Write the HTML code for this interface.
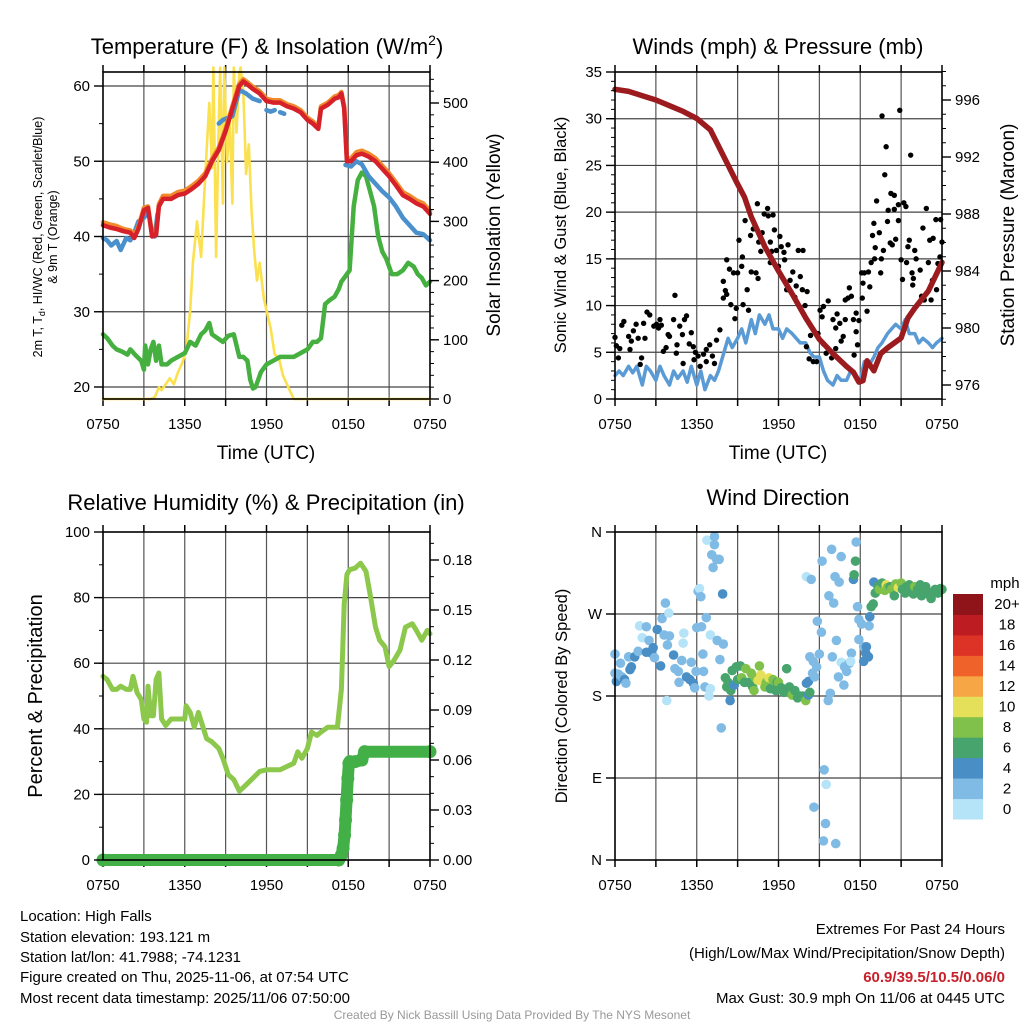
<!DOCTYPE html>
<html><head><meta charset="utf-8"><title>High Falls Meteogram</title>
<style>
html,body{margin:0;padding:0;background:#fff;}
svg{display:block;font-family:"Liberation Sans",Arial,sans-serif;}
</style></head>
<body>
<svg id="chart" width="1024" height="1024" viewBox="0 0 1024 1024" xmlns="http://www.w3.org/2000/svg">
<g id="static">
<text x="267" y="54" font-size="22" text-anchor="middle">Temperature (F) &amp; Insolation (W/m<tspan dy="-9" font-size="14">2</tspan><tspan dy="9">)</tspan></text>
<text x="778" y="54" font-size="22" text-anchor="middle">Winds (mph) &amp; Pressure (mb)</text>
<text x="266" y="510" font-size="22" text-anchor="middle">Relative Humidity (%) &amp; Precipitation (in)</text>
<text x="778" y="505" font-size="22" text-anchor="middle">Wind Direction</text>
<text transform="translate(42,237) rotate(-90)" font-size="12.5" text-anchor="middle">2m T, T<tspan dy="3" font-size="9">d</tspan><tspan dy="-3">, HI/WC (Red, Green, Scarlet/Blue)</tspan></text>
<text transform="translate(57,237) rotate(-90)" font-size="12.5" text-anchor="middle">&amp; 9m T (Orange)</text>
<text transform="translate(500,235) rotate(-90)" font-size="19" text-anchor="middle">Solar Insolation (Yellow)</text>
<text x="266" y="459" font-size="19" text-anchor="middle">Time (UTC)</text>
<text x="778" y="459" font-size="19" text-anchor="middle">Time (UTC)</text>
<text transform="translate(566,235) rotate(-90)" font-size="16.5" text-anchor="middle">Sonic Wind &amp; Gust (Blue, Black)</text>
<text transform="translate(1014,235) rotate(-90)" font-size="19" text-anchor="middle">Station Pressure (Maroon)</text>
<text transform="translate(42,696) rotate(-90)" font-size="20" text-anchor="middle">Percent &amp; Precipitation</text>
<text transform="translate(567,696) rotate(-90)" font-size="16.5" text-anchor="middle">Direction (Colored By Speed)</text>
<text x="1005" y="588" font-size="15" text-anchor="middle">mph</text>
<g font-size="15">
<text x="20" y="921">Location: High Falls</text>
<text x="20" y="942">Station elevation: 193.121 m</text>
<text x="20" y="962">Station lat/lon: 41.7988; -74.1231</text>
<text x="20" y="982">Figure created on Thu, 2025-11-06, at 07:54 UTC</text>
<text x="20" y="1003">Most recent data timestamp: 2025/11/06 07:50:00</text>
</g>
<g font-size="15" text-anchor="end">
<text x="1005" y="934">Extremes For Past 24 Hours</text>
<text x="1005" y="958">(High/Low/Max Wind/Precipitation/Snow Depth)</text>
<text x="1005" y="982" fill="#c8202a" font-weight="bold">60.9/39.5/10.5/0.06/0</text>
<text x="1005" y="1003">Max Gust: 30.9 mph On 11/06 at 0445 UTC</text>
</g>
<text x="512" y="1019" font-size="12" fill="#999" text-anchor="middle">Created By Nick Bassill Using Data Provided By The NYS Mesonet</text>
</g>
</svg>
<script>
// ===== Data =====
const timeTickLabels = ["0750","1350","1950","0150","0750"];
// Temperature panel (hours since 07:50 UTC)
const tempHours = [0,0.5,1,1.5,2,2.3,2.6,3,3.3,3.6,3.9,4.1,4.4,5,5.5,6,6.5,7,7.5,8,8.5,9,9.5,10,10.3,10.6,11,11.5,12,12.5,13,13.5,14,14.5,15,15.4,15.8,16,16.5,17,17.3,17.5,17.7,17.9,18.2,18.6,19,19.5,20,20.5,21,21.5,22,22.5,23,23.5,24];
const tempValues = [41.5,41.2,41,40.7,40.5,39.8,41,43.5,43.8,40,40.2,44,45,45,45.5,45.7,46.3,47,48,50,51.5,54,57,60,60.6,60.2,59.6,59,58,57.8,57.8,57.3,57,56.5,55.5,55,54.3,57,57.5,58.3,58.5,59,57,50,50,50.8,51,50.6,50,49,48,46.8,45.5,45,44.4,44,43];
const temp9mValues = [41.9,41.6,41.4,41,40.8,40.1,41.3,43.8,44,40.3,40.5,44.3,45.4,45.4,45.9,46.1,46.7,47.4,48.4,50.3,51.8,54.3,57.3,60.3,60.9,60.5,59.9,59.3,58.3,58.1,58.1,57.6,57.3,56.8,55.8,55.3,54.6,57.3,57.8,58.6,58.8,59.2,57.3,50.3,50.4,51.2,51.4,51,50.4,49.4,48.4,47.2,45.9,45.4,44.8,44.4,43.4];
const chillHours = [0,0.3,0.6,1,1.3,1.7,2,2.3,2.6,3,3.3,null,3.8,3.9,4,null,4.4,null,5.1,null,7.7,8,null,8.5,8.8,9.5,10,10.5,11,11.5,null,11.8,null,12,12.3,12.6,null,13,13.3,null,17.8,18.2,18.6,19,19.5,20,20.5,21,21.5,22,22.5,23,23.5,24];
const chillValues = [39.8,39.5,38.8,39.4,38.2,39.8,39.5,40.5,42,42.5,43.2,null,40,41.5,43,null,44,null,43,null,49,50,null,55,55.5,56,59.5,59,58.3,58,null,57.5,null,56.8,56.6,56.8,null,56.5,56.3,null,49.5,49.3,50,49.6,48,47,46,45.2,44,42.5,41.5,40.5,40.3,39.5];
const dewHours = [0,0.3,0.7,1,1.4,1.8,2,2.4,2.8,3,3.1,3.3,3.5,3.7,3.9,4.1,4.3,4.7,5,5.5,6,6.4,6.8,7.2,7.5,7.8,8,8.4,8.8,9.2,9.6,10,10.3,10.6,10.8,11,11.2,11.6,12,12.5,13,13.5,14,14.5,15,15.4,15.7,16,16.3,16.6,17,17.3,17.5,17.7,17.9,18.1,18.4,18.7,19,19.3,19.6,19.9,20.2,20.5,20.8,21.2,21.6,22,22.4,22.8,23.1,23.4,23.7,24];
const dewValues = [27,26.5,25.5,25,24.7,24.3,25,24.2,23.5,22.3,25.5,23,25,26,23.5,25.5,23,23,23.5,24,24.5,26,25.5,27,27.5,28.5,27,26.5,26,26.8,27,24,24,23.5,21,19.8,20,22,23,23.5,24,24,24,24.5,25,26,26,26.5,31,31.5,32,33,34,34.5,35,35.5,44,47.5,48.5,48,46,44,40,38,37,35,35,35.5,36.5,36,35,34.5,33.5,34];
const solarHours = [0,1,2,3,3.5,3.8,4.1,4.3,4.6,4.9,5.2,5.5,5.8,6.1,6.4,6.6,6.9,7.2,7.4,7.6,7.8,8,8.1,8.3,8.5,8.6,8.8,8.9,9.1,9.3,9.5,9.6,9.8,10,10.1,10.3,10.5,10.7,10.9,11.1,11.3,11.5,11.8,12,12.3,12.6,12.9,13.2,13.5,13.8,14,14.5,15,18,21,24];
const solarValues = [0,0,0,0,0,3,20,15,25,35,25,45,60,80,150,230,300,240,330,420,500,390,560,240,470,560,330,560,400,470,330,560,450,550,560,520,380,430,320,250,200,230,170,150,120,75,70,40,25,10,0,0,0,0,0,0];
// Winds panel
const windHours = [0,0.3,0.6,1,1.3,1.6,2,2.3,2.6,3,3.3,3.6,4,4.3,4.6,5,5.3,5.6,6,6.3,6.6,7,7.3,7.6,8,8.3,8.6,9,9.3,9.6,10,10.3,10.6,11,11.3,11.6,12,12.3,12.6,13,13.3,13.6,14,14.3,14.6,15,15.3,15.6,16,16.3,16.6,17,17.3,17.6,18,18.3,18.6,19,19.3,19.6,20,20.3,20.6,21,21.3,21.6,22,22.3,22.6,23,23.3,23.6,24];
const windValues = [2.5,3,2.5,3.5,2.8,3.5,1.5,3.5,3,2,3.5,2.5,1.5,3,2.2,3,1.8,3.5,1.5,3,1,2.5,2,3,5,6.5,5.5,6.5,7.5,6,8.5,7,9,8,9,7.5,7.5,6.5,7.5,7,6.5,6,6,5,4.5,4.5,3,2,1.5,2.5,2,2,3,2.5,2,4,3.5,4.5,5.5,6,7,7.5,8,7.5,8.5,7,7,6,6.5,6,5.5,6,6.5];
const pressureHours = [0,1,2,3,4,5,6,7,8,9,9.5,10,11,12,13,14,15,16,17,17.5,17.9,18.2,18.5,19,19.5,20,21,21.5,22,23,24];
const pressureValues = [996.75,996.6,996.3,996.0,995.6,995.2,994.7,993.9,992.0,990.1,989.2,987.8,985.7,984.0,982.4,980.7,979.2,978.2,977.3,976.9,976.2,976.3,977.7,977.0,978.2,978.6,979.3,980.7,981.4,982.6,984.6];
const gustHours = [0,0.1,0.25,0.35,0.5,0.65,1,1.1,1.2,1.35,1.55,1.7,1.85,1.95,2.1,2.2,2.35,2.55,2.85,3.05,3.2,3.3,3.4,3.55,3.75,3.9,4,4.3,4.4,4.5,4.55,4.75,4.95,5,5.1,5.25,5.45,5.6,5.75,5.8,5.9,6.1,6.25,6.5,6.7,6.7,6.95,7.15,7.3,7.45,7.7,7.95,7.95,8.1,8.2,8.2,8.4,8.5,8.7,8.8,8.9,9,9.1,9.3,9.35,9.4,9.55,9.7,9.8,9.95,10,10.15,10.35,10.45,10.5,10.55,10.7,10.8,10.95,11.2,11.25,11.4,11.4,11.5,11.6,11.7,11.85,12,12.1,12.2,12.4,12.45,12.6,12.7,12.85,13.05,13.2,13.3,13.45,13.6,13.75,13.8,13.95,14.05,14.1,14.25,14.35,14.55,14.8,14.9,15.05,15.2,15.3,15.3,15.5,15.65,15.9,16,16.2,16.2,16.3,16.5,16.6,16.75,16.9,16.9,17.1,17.2,17.35,17.5,17.55,17.7,17.7,17.8,17.9,18.1,18.15,18.2,18.3,18.5,18.6,18.7,18.8,18.9,19,19.05,19.1,19.2,19.4,19.5,19.55,19.6,19.7,19.8,19.9,20,20.05,20.2,20.25,20.35,20.5,20.5,20.6,20.8,20.8,20.9,21,21.1,21.2,21.35,21.4,21.5,21.6,21.7,21.8,21.85,21.9,22,22.1,22.4,22.5,22.6,22.7,22.85,23,23.1,23.2,23.3,23.35,23.55,23.6,23.7,23.85,23.9,24];
const gustValues = [6.6,5.7,4.4,5.4,7.9,8.3,6.7,5.3,6.2,7.3,8,6.5,3.7,4.4,8.1,6.5,9.3,9,7.8,8,7.6,8.5,7.9,5.1,5.5,6.9,6.7,8.5,11.1,4.9,5.8,7.8,6.9,3.8,8.5,8.9,5.9,7.1,5.6,4.2,5,4.6,3.5,4.8,5.3,4,5.8,4.6,3.8,6.3,7.4,10.8,12.6,11.6,14.9,11.2,13.9,10.1,13.5,8.6,9.7,13.5,17,14.2,15.2,10.1,19.1,11.7,9.5,17.5,13.6,18.2,13.5,20.9,12.9,16.8,15.8,17.8,19.8,20.4,19.6,14.6,16.8,15.8,19.7,18.1,15.9,14.2,17.4,16.3,15.7,14.9,11.7,16.5,12.7,13.6,10.9,12.1,15.9,13.1,11.7,15.9,10,5.6,11.5,4.3,6.8,4,4,7,9.5,8.8,9.9,5.9,4.9,10.5,4.4,8.5,7.6,5.4,9.1,8.1,6.2,6.7,10.6,8.5,10.8,11.9,11,8.5,4.7,9.2,7.2,5.8,8.4,13.5,10.8,12.4,13.5,9.4,13.6,12,14.6,17.5,18.8,15,16.2,21.2,17.8,13.5,15,30.3,15.9,24,27,19,20.2,16.7,22,16.5,20.3,21.8,17.1,20.8,19.1,30.9,14.9,12.8,21,20.6,14.6,16.3,17,26.1,13.5,12.2,12.9,15.9,15,13.8,11,18.3,10.6,20.4,14.6,17,10.6,12.7,17.2,19.2,11.7,14.5,15.2,19.2,16.8];
// Humidity panel
const rhHours = [0,0.3,0.7,1,1.3,1.7,2,2.2,2.5,2.8,3,3.2,3.3,3.5,3.7,3.9,4.1,4.3,4.6,5,5.5,6,6.1,6.4,6.7,7,7.3,7.6,8,8.5,8.8,9.2,9.6,10,10.4,10.9,11.5,12,13,13.5,14,14.3,14.6,15,15.3,15.7,16,16.5,17.2,17.5,17.7,17.9,18.1,18.5,18.9,19.3,19.6,20,20.3,20.7,21,21.3,21.8,22.2,22.7,23,23.4,23.8,24];
const rhValues = [56,55,52,52,53,52,52,56,51,49,43,42,53,44,44,55,57,43,41,43,43,43,47,45,40.5,45,41,37,36,34,31,26,24.5,21,22.5,24.5,27,27.5,27.5,28.5,29.5,33,31,34,39,38,39,40.5,40.5,52,78,87,88.5,89,90.5,88,81,71,67,65,59,60.5,64,71,72,70,67,70,69];
const precipHours = [0,17.3,17.5,17.62,17.73,17.8,17.88,17.97,18.05,18.12,18.5,19.0,19.2,24];
const precipValues = [0,0,0.003,0.007,0.015,0.024,0.036,0.049,0.058,0.059,0.059,0.06,0.065,0.065];
// Direction panel
const dirHours = [0,0,0.1,0.4,0.25,0.5,0.7,0.8,1,1.1,1.2,1.45,1.7,1.8,2,2.3,2.3,2.5,2.7,2.8,2.9,3.1,3.35,3.45,3.7,3.95,3.6,4,3.85,4.3,4.4,4.65,4.7,5.05,5,4.9,5.25,5.5,5.75,5.85,5.6,5.95,3.8,6.75,7.3,7.3,7.1,7.45,7.65,7.2,7.9,6.1,6.2,6.3,6.7,6,6.35,7,7.5,7.95,6.45,7.7,6.5,6.6,7,6.9,7.8,8.45,8.1,8.2,8.3,8.5,8.6,8.75,8.9,9,9.2,9.3,9.5,9.6,9.8,10,10.1,10.2,10.3,10.5,10.6,10.7,10.9,11,11.1,11.3,11.4,11.6,11.8,11.9,12,12.2,12.4,12.6,12.8,13,13.2,13.4,13.6,13.8,14,14.2,14.3,14.05,14.2,14.5,14.3,14.55,14.8,15,15.15,14.85,14.05,14.4,15.2,15.9,16.6,16.15,16.45,15.7,16.05,16.25,15.95,16.6,16.85,17,16.4,16.8,15.8,15.65,14.65,14.6,15.35,15.5,15.45,15.3,16.2,17.35,17.2,17.3,17.5,17.55,17.65,17.7,17.8,17.9,17.9,18.1,18.65,18.25,18.45,18.6,18.25,18.4,18.7,18.8,18.95,19,19.1,19.3,19.4,19.6,19.8,19.9,20,20.2,20.3,20.5,20.6,20.8,21,21.1,21.3,21.4,21.6,21.7,21.9,22,22.2,22.4,22.5,22.7,22.8,23,23.2,23.3,23.5,23.7,23.9,24];
const dirValues = [226,205,196,216,204,201,198,194,223,209,212,223,229,257,244,256,228,241,227,233,222,253,213,265,282,271,247,246,236,225,210,207,195,249,238,219,201,198,194,189,217,207,175,351,355,346,335,330,330,321,292,295,298,289,266,255,256,247,241,237,226,220,207,190,188,180,145,175,200,190,195,186,208,192,212,198,213,200,195,210,195,205,190,186,200,197,213,203,198,190,195,200,188,198,186,195,195,189,184,210,190,181,186,178,180,180,175,181,184,194,196,205,223,218,212,226,250,262,311,308,328,341,333,311,305,290,282,241,223,217,212,207,201,192,183,175,201,58,99,83,40,21,18,227,216,218,308,313,328,349,278,264,242,259,257,234,234,223,218,227,267,278,281,305,293,300,297,304,296,302,299,300,297,290,303,299,304,297,293,300,302,296,292,300,297,302,290,296,300,292,287,294,297,293,298,297];
const dirSpeeds = [3,3,5,3,3,3,5,3,3,5,5,5,3,1,1,3,5,3,5,5,3,5,5,3,3,1,3,3,3,5,3,3,3,1,1,3,5,5,5,3,3,3,1,1,3,3,3,3,3,3,5,3,1,3,3,3,3,1,3,3,3,3,3,3,1,1,3,5,7,7,7,7,7,5,7,7,7,9,7,9,7,9,7,9,9,11,9,11,11,9,9,11,7,9,7,7,9,7,7,7,7,9,7,7,7,7,9,5,7,5,5,3,3,3,3,3,3,3,1,3,3,3,3,3,3,3,3,3,3,1,3,3,3,3,3,3,3,3,3,1,3,3,3,3,3,1,5,7,7,3,3,3,3,3,3,3,5,5,5,5,5,7,7,5,7,7,9,7,9,11,9,7,9,7,9,11,9,7,7,7,7,7,7,9,7,7,7,7,7,7,7,7,7,7,7,7,7,7,7,7,7];
const speedColors = ["#b5e3f8","#80bbe5","#4a8ec6","#46a46c","#7fc14a","#e5e05a","#f6a645","#ef6229","#dd3326","#bd1c23","#8f1419"];
const colorbarLabels = ["0","2","4","6","8","10","12","14","16","18","20+"];

// ===== Drawing =====
const NS = "http://www.w3.org/2000/svg";
const svg = document.getElementById("chart");
function mk(tag, attrs, parent){
  const e = document.createElementNS(NS, tag);
  for (const k in attrs) e.setAttribute(k, attrs[k]);
  (parent || svg).appendChild(e);
  return e;
}
function lin(d0,d1,r0,r1){ return v => r0 + (v-d0)*(r1-r0)/(d1-d0); }

function panel(name, x0, x1, y0, y1){
  const g = mk("g", {});
  
  
  return {g, x0, x1, y0, y1, x: lin(0,24,x0,x1)};
}
function frameAndTimeAxis(p, hGrid, gridY){
  const grid = mk("g", {stroke:"#000", "stroke-width":"1.2"}, p.g);
  
  
  for (let h=3; h<24; h+=3){
    const gx = p.x(h);
    mk("line", {x1:gx, x2:gx, y1:p.y0, y2:p.y1, stroke: "#555"}, grid);
  }
  gridY.forEach(gy => mk("line", {x1:p.x0, x2:p.x1, y1:gy, y2:gy, stroke:"#444"}, grid));
  const ax = mk("g", {stroke:"#000", "stroke-width":"1.5"}, p.g);
  
  
  for (let h=0; h<=24; h+=3){
    const gx = p.x(h);
    mk("line", {x1:gx, x2:gx, y1:p.y1, y2:p.y1+7}, ax);
    mk("line", {x1:gx, x2:gx, y1:p.y0, y2:p.y0-7}, ax);
  }
  timeTickLabels.forEach((lbl,i) => {
    const t = mk("text", {x:p.x(i*6), y:p.y1+30, "font-size":"15", "text-anchor":"middle", stroke:"none"}, ax);
    
    
    t.textContent = lbl;
  });
}
function border(p){
  const r = mk("rect", {x:p.x0, y:p.y0, width:p.x1-p.x0, height:p.y1-p.y0, fill:"none", stroke:"#000", "stroke-width":"1.6"}, p.g);
  
  
}
function yAxis(p, side, ticks, labels, scale, minorStep, dmin, dmax){
  const g = mk("g", {stroke:"#000", "stroke-width":"1.4"}, p.g);
  
  
  const xe = side === "left" ? p.x0 : p.x1;
  const dir = side === "left" ? -1 : 1;
  if (minorStep){
    for (let v = dmin; v <= dmax + 1e-9; v += minorStep){
      const yy = scale(v);
      if (yy < p.y0-0.5 || yy > p.y1+0.5) continue;
      mk("line", {x1:xe, x2:xe+dir*4, y1:yy, y2:yy, "stroke-width":"1"}, g);
    }
  }
  ticks.forEach((v,i) => {
    const yy = scale(v);
    mk("line", {x1:xe, x2:xe+dir*9, y1:yy, y2:yy}, g);
    const t = mk("text", {x: xe + dir*13, y: yy+5, "font-size":"15", "text-anchor": side==="left"?"end":"start", stroke:"none"}, g);
    
    
    t.textContent = labels[i];
  });
}
function path(p, hours, vals, ys, attrs, name){
  let d = "", pen = false;
  for (let i=0;i<hours.length;i++){
    if (hours[i] === null || vals[i] === null){ pen = false; continue; }
    d += (pen ? "L" : "M") + p.x(hours[i]).toFixed(1) + " " + ys(vals[i]).toFixed(1) + " ";
    pen = true;
  }
  const a = Object.assign({d:d, fill:"none", "stroke-linejoin":"round", "stroke-linecap":"round"}, attrs);
  const e = mk("path", a, p.g);
  
  
  return e;
}

// Panel 1: temperature
const p1 = panel("temperature-panel", 103, 430, 72, 399);
const yT = lin(20, 60, 387, 86);
const yS = lin(0, 500, 399, 103);
frameAndTimeAxis(p1, true, [20,30,40,50,60].map(yT));
path(p1, solarHours, solarValues, yS, {stroke:"#fbe04f", "stroke-width":"2.6"}, "solar-line");
path(p1, dewHours, dewValues, yT, {stroke:"#45b03f", "stroke-width":"4.5"}, "dewpoint-line");
path(p1, chillHours, chillValues, yT, {stroke:"#4a90cd", "stroke-width":"4.5"}, "wind-chill-line");
path(p1, tempHours, temp9mValues, yT, {stroke:"#f08a2a", "stroke-width":"4.5"}, "temp-9m-line");
path(p1, tempHours, tempValues, yT, {stroke:"#d7212a", "stroke-width":"4.5"}, "temp-2m-line");
border(p1);
yAxis(p1, "left", [20,30,40,50,60], ["20","30","40","50","60"], yT, 5, 20, 62);
yAxis(p1, "right", [0,100,200,300,400,500], ["0","100","200","300","400","500"], yS, 20, 0, 560);

// Panel 2: winds
const p2 = panel("winds-panel", 615, 942, 72, 399);
const yW = lin(0, 35, 399, 72);
const yP = lin(976, 996, 385, 100);
frameAndTimeAxis(p2, true, [5,10,15,20,25,30].map(yW));
path(p2, windHours, windValues, yW, {stroke:"#5b9bd5", "stroke-width":"3.5"}, "sustained-wind-line");
const gustG = mk("g", {fill:"#000"}, p2.g);


gustHours.forEach((h,i) => {
  const c = mk("circle", {cx:p2.x(h), cy:yW(gustValues[i]), r:"2.7"}, gustG);
  
  
});
path(p2, pressureHours, pressureValues, yP, {stroke:"#9b1b1f", "stroke-width":"5.5"}, "pressure-line");
border(p2);
yAxis(p2, "left", [0,5,10,15,20,25,30,35], ["0","5","10","15","20","25","30","35"], yW, 1, 0, 35);
yAxis(p2, "right", [976,980,984,988,992,996], ["976","980","984","988","992","996"], yP, 1, 975, 998);

// Panel 3: humidity
const p3 = panel("humidity-panel", 103, 430, 532, 860);
const yR = lin(0, 100, 860, 532);
const yQ = lin(0, 0.18, 860, 560);
frameAndTimeAxis(p3, true, [20,40,60,80].map(yR));
path(p3, rhHours, rhValues, yR, {stroke:"#8cc84b", "stroke-width":"5"}, "humidity-line");
path(p3, precipHours, precipValues, yQ, {stroke:"#43b047", "stroke-width":"12"}, "precip-line");
const prG = mk("g", {fill:"#43b047"}, p3.g);


precipHours.forEach((h,i) => {
  const c = mk("circle", {cx:p3.x(h), cy:yQ(precipValues[i]), r:"6.5"}, prG);
  
  
});
border(p3);
yAxis(p3, "left", [0,20,40,60,80,100], ["0","20","40","60","80","100"], yR, 10, 0, 100);
yAxis(p3, "right", [0,0.03,0.06,0.09,0.12,0.15,0.18], ["0.00","0.03","0.06","0.09","0.12","0.15","0.18"], yQ, 0.01, 0, 0.197);

// Panel 4: direction
const p4 = panel("wind-direction-panel", 615, 942, 532, 860);
const yD = lin(0, 360, 860, 532);
frameAndTimeAxis(p4, true, [90,180,270].map(yD));
const dG = mk("g", {}, p4.g);


dirHours.forEach((h,i) => {
  const idx = Math.min(10, Math.floor(dirSpeeds[i]/2));
  const c = mk("circle", {cx:p4.x(h), cy:yD(dirValues[i]), r:"4.8", fill:speedColors[idx]}, dG);
  
  
});
border(p4);
yAxis(p4, "left", [0,90,180,270,360], ["N","E","S","W","N"], yD, null, 0, 360);

// Colorbar
const cb = mk("g", {});


const cbY = lin(0, 11, 819, 594);
speedColors.forEach((col,i) => {
  const r = mk("rect", {x:953, y:cbY(i+1), width:30, height:cbY(i)-cbY(i+1)+0.5, fill:col}, cb);
  
  
  const t = mk("text", {x:1007, y:(cbY(i)+cbY(i+1))/2+5, "font-size":"15", "text-anchor":"middle"}, cb);
  
  
  t.textContent = colorbarLabels[i];
});
</script>
</body></html>
